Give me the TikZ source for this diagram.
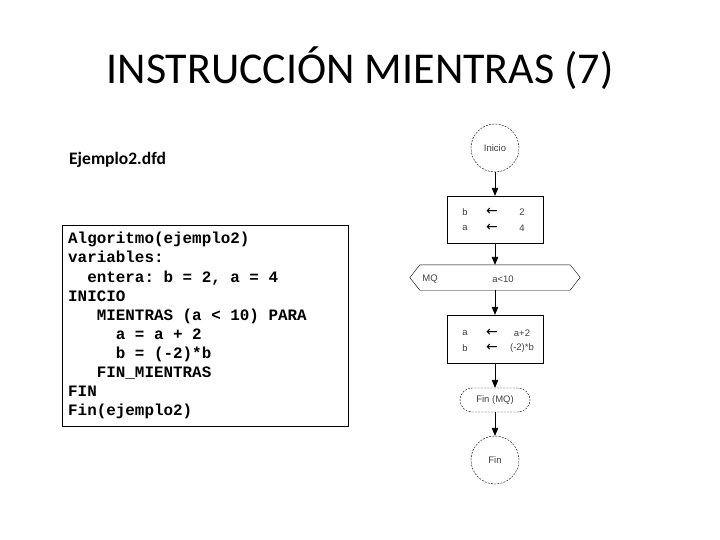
\documentclass[tikz,border=0pt]{standalone}
\usepackage{fontspec}
\setmainfont{Carlito}
\newfontfamily\codefont{Liberation Mono}
\newfontfamily\dfdfont{Liberation Sans}
\newfontfamily\flechafont{DejaVu Sans}
\newcommand{\espaciofijo}{\spaceskip=0.6em\relax\xspaceskip=0.6em\relax}
\usepackage{tikz}
\usetikzlibrary{arrows}

\tikzset{
 dfdtext/.style={font=\dfdfont\fontsize{9.5}{11}\selectfont, text=black!75, inner sep=0pt},
 dfdcirc/.style={draw, circle, dash pattern=on 2pt off 1.2pt, minimum size=48pt, inner sep=0pt, dfdtext},
 dfdbox/.style={draw, minimum width=96pt, minimum height=47pt, inner sep=0pt},
 dfdfin/.style={draw, rounded corners=12pt, dash pattern=on 2pt off 1.2pt, minimum width=70pt, minimum height=24pt, inner sep=0pt, dfdtext},
 flujo/.style={black, thick, ->, >=triangle 45}
}

\begin{document}
\begin{tikzpicture}[x=1pt, y=-1pt]
\useasboundingbox (0,0) rectangle (720,540);

% titulo
\node (titulo) at (360,68) {\fontsize{44}{50}\selectfont INSTRUCCIÓN MIENTRAS (7)};
\node (nombre) [anchor=west, inner sep=0pt] at (69,160) {\fontsize{17.5}{20}\selectfont\bfseries Ejemplo2.dfd};

% pseudocodigo
\node (codigo) [draw, anchor=north west, inner xsep=6pt, inner ysep=0pt, text width=274pt, minimum height=201pt, align=left,
  font=\codefont\bfseries\fontsize{15.9}{19.1}\selectfont] at (62,225) {\espaciofijo
Algoritmo(ejemplo2)\\
variables:\\
\phantom{xx}entera: b = 2, a = 4\\
INICIO\\
\phantom{xxx}MIENTRAS (a < 10) PARA\\
\phantom{xxxxx}a = a + 2\\
\phantom{xxxxx}b = (-2)*b\\
\phantom{xxx}FIN\_MIENTRAS\\
FIN\\
Fin(ejemplo2)};

% diagrama
\node (inicio) [dfdcirc] at (495,148) {Inicio};
\node (asig1) [dfdbox] at (495,219.5) {};
\node (mq) [minimum width=150pt, minimum height=25pt, inner sep=0pt] at (495,277.5) {};
\draw (mq.north west) -- (mq.north east) -- ++(10,12.5) -- (mq.south east) -- (mq.south west) -- ++(-10,-12.5) -- cycle;
\node (mqlbl) [dfdtext] at (430,279) {MQ};
\node (cond) [dfdtext] at (503,279) {a<10};
\node (asig2) [dfdbox, minimum height=48pt] at (495,339) {};
\node (finmq) [dfdfin] at (495,400) {Fin (MQ)};
\node (fin) [dfdcirc] at (495,460) {Fin};

\foreach \n/\yy/\v/\e in {1/212/b/2, 2/228/a/4, 3/333/a/a+2, 4/348/b/(-2)*b} {
 \node (var\n) [dfdtext] at (465,\yy) {\v};
 \node (flecha\n) [dfdtext, text=black, font=\flechafont\fontsize{14}{14}\selectfont] at (492,\yy) {←};
 \node (valor\n) [dfdtext] at (522,\yy) {\e};
};

\draw[flujo] (inicio) -- (asig1);
\draw[flujo] (asig1) -- (mq);
\draw[flujo] (mq) -- (asig2);
\draw[flujo] (asig2) -- (finmq);
\draw[flujo] (finmq) -- (fin);
\end{tikzpicture}
\end{document}
